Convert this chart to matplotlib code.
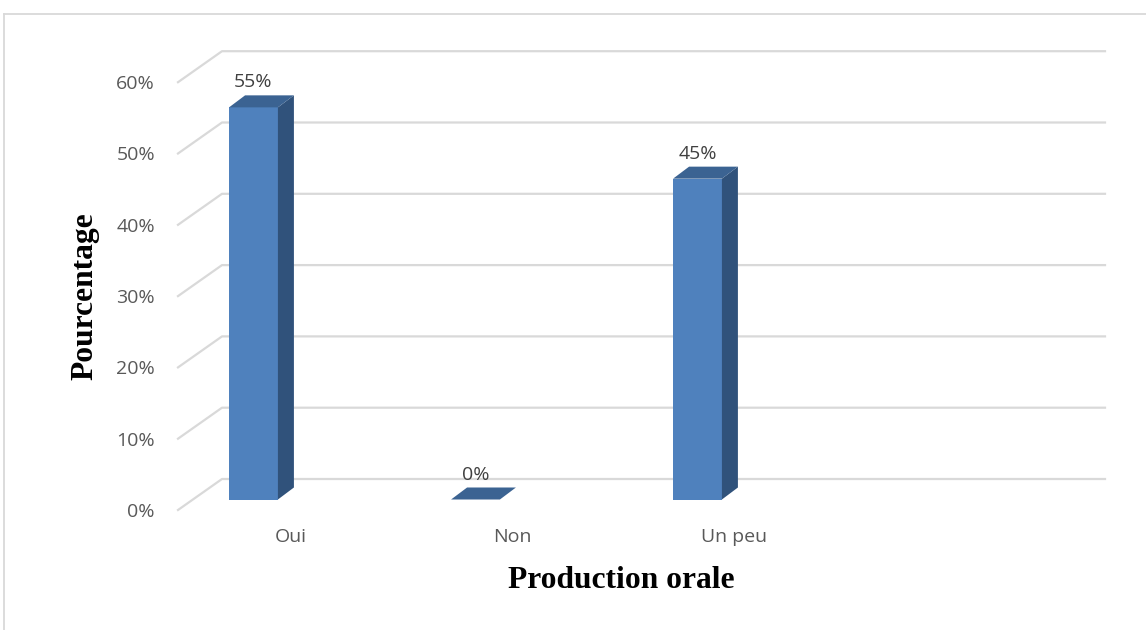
import matplotlib
matplotlib.use("Agg")
import matplotlib.pyplot as plt
from matplotlib.patches import Polygon
from matplotlib.lines import Line2D
from matplotlib.transforms import ScaledTranslation

# données
categories = ["Oui", "Non", "Un peu"]
valeurs = [55, 0, 45]
graduations = [0, 10, 20, 30, 40, 50, 60]

# couleurs façon Excel
c_face = "#4f81bd"
c_cote = "#30527b"
c_dessus = "#3b6392"
c_grille = "#d9d9d9"
c_texte = "#595959"

W, H, DPI = 1146, 630, 100
fig = plt.figure(figsize=(W / DPI, H / DPI), dpi=DPI)

# plan des faces avant des colonnes (en pixels)
gauche, droite, bas, haut = 193, 1076, 499.5, 71.7
ax = fig.add_axes([gauche / W, 1 - bas / H, (droite - gauche) / W, (bas - haut) / H])
ax.set_xlim(-0.2725, 3.705)
ax.set_ylim(0, 60)
for s in ax.spines.values():
    s.set_visible(False)


def px_vers_data(dx, dy):
    # décalage en pixels -> décalage en unités de données
    p0 = ax.transData.transform((0, 0))
    x, y = ax.transData.inverted().transform((p0[0] + dx, p0[1] + dy))
    return x, y


# profondeur: mur du fond, plan avant, épaisseur des colonnes
fond = px_vers_data(29, 20.5)
avant = px_vers_data(-15, -10.5)
prof = px_vers_data(16, 12)

x0, x1 = ax.get_xlim()
for v in graduations:
    ax.add_line(Line2D([x0 + avant[0], x0 + fond[0], x1 + fond[0]],
                       [v + avant[1], v + fond[1], v + fond[1]],
                       color=c_grille, lw=1.6, zorder=1, clip_on=False))

largeur = 0.22
barres = ax.bar(range(len(categories)), valeurs, width=largeur, color=c_face,
                zorder=3, clip_on=False)

for i, v in enumerate(valeurs):
    g, d = i - largeur / 2, i + largeur / 2
    # côté droit
    ax.add_patch(Polygon([(d, 0), (d + prof[0], prof[1]), (d + prof[0], v + prof[1]), (d, v)],
                         closed=True, color=c_cote, zorder=3, clip_on=False, lw=0))
    # dessus
    ax.add_patch(Polygon([(g, v), (d, v), (d + prof[0], v + prof[1]), (g + prof[0], v + prof[1])],
                         closed=True, color=c_dessus, zorder=4, clip_on=False, lw=0))
    ax.annotate(f"{v}%", (i, v), xytext=(0, 25), textcoords="offset pixels",
                ha="center", va="center", fontsize=14, color="#404040",
                family="Open Sans", zorder=5)

ax.set_yticks(graduations, [f"{v}%" for v in graduations])
ax.set_xticks(range(len(categories)), categories)
ax.tick_params(axis="both", length=0, labelsize=14, labelcolor=c_texte)
ax.tick_params(axis="y", pad=16.6)
ax.tick_params(axis="x", pad=0)
for lab in ax.get_yticklabels():
    lab.set_family("Open Sans")
    lab.set_transform(lab.get_transform() + ScaledTranslation(-15 / DPI, -10.5 / DPI, fig.dpi_scale_trans))
for lab in ax.get_xticklabels():
    lab.set_family("Open Sans")
    lab.set_transform(lab.get_transform() + ScaledTranslation(37 / DPI, -28 / DPI, fig.dpi_scale_trans))

fig.text(85 / W, 1 - 296 / H, "Pourcentage", rotation=90, ha="center", va="center",
         family="Liberation Serif", fontweight="bold", fontsize=22.7, color="black")
fig.text(621 / W, 1 - 581 / H, "Production orale", ha="center", va="center",
         family="Liberation Serif", fontweight="bold", fontsize=22.7, color="black")

# cadre du graphique
fig.add_artist(Line2D([3.5 / W, 1], [1 - 13.5 / H, 1 - 13.5 / H], color=c_grille, lw=1.3))
fig.add_artist(Line2D([3.5 / W, 3.5 / W], [0, 1 - 13.5 / H], color=c_grille, lw=1.3))

fig.savefig("out.png", dpi=DPI)
